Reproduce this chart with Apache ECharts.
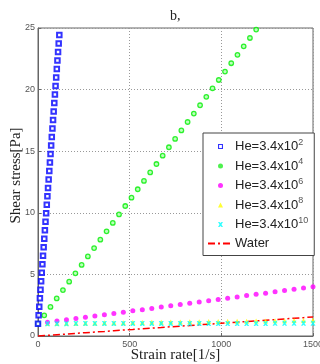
<!DOCTYPE html>
<html>
<head>
<meta charset="utf-8">
<script src="https://cdn.jsdelivr.net/npm/echarts@6/dist/echarts.min.js"></script>
<style>html,body{margin:0;padding:0;background:#fff}#c{width:320px;height:364px}</style>
</head>
<body>
<div id="c"></div>
<script>
// ---- data ----
const titleText = 'b,';
const xName = 'Strain rate[1/s]';
const yName = 'Shear stress[Pa]';
const xTicks = [0, 500, 1000, 1500];
const yTicks = [0, 5, 10, 15, 20, 25];
const seriesNames = ['He=3.4x10^2', 'He=3.4x10^4', 'He=3.4x10^6', 'He=3.4x10^8', 'He=3.4x10^10', 'Water'];

// He=3.4x10^2 (blue squares)
const rateHe2 = [0,3.4,6.8,10.3,13.7,17.1,20.5,23.9,27.4,30.8,34.2,37.6,41.0,44.5,47.9,51.3,54.7,58.1,61.6,65.0,68.4,71.8,75.2,78.7,82.1,85.5,88.9,92.3,95.8,99.2,102.6,106.0,109.4,112.9,116.3];
const stressHe2 = [1.00,1.69,2.38,3.07,3.76,4.45,5.13,5.82,6.51,7.20,7.89,8.58,9.27,9.96,10.65,11.34,12.02,12.71,13.40,14.09,14.78,15.47,16.16,16.85,17.54,18.23,18.91,19.60,20.29,20.98,21.67,22.36,23.05,23.74,24.43];
// He=3.4x10^4 (green circles)
const rateHe4 = [0,34,68,102,136,170,204,238,272,306,340,374,408,442,476,510,544,578,612,646,680,714,748,782,816,850,884,918,952,986,1020,1054,1088,1122,1156,1190];
const stressHe4 = [1.00,1.68,2.36,3.05,3.73,4.41,5.09,5.77,6.46,7.14,7.82,8.50,9.18,9.87,10.55,11.23,11.91,12.59,13.28,13.96,14.64,15.32,16.00,16.69,17.37,18.05,18.73,19.41,20.10,20.78,21.46,22.14,22.82,23.51,24.19,24.87];
// common strain rates for the other series
const rateCommon = [0,51.7,103.4,155.2,206.9,258.6,310.3,362.1,413.8,465.5,517.2,569.0,620.7,672.4,724.1,775.9,827.6,879.3,931.0,982.8,1034.5,1086.2,1137.9,1189.7,1241.4,1293.1,1344.8,1396.6,1448.3,1500];
const stressHe6 = [1.00,1.11,1.21,1.31,1.42,1.52,1.62,1.73,1.83,1.93,2.04,2.14,2.24,2.35,2.45,2.55,2.66,2.76,2.86,2.97,3.07,3.17,3.28,3.38,3.48,3.59,3.69,3.79,3.90,3.99];
const stressHe8 = [1.00,1.01,1.02,1.03,1.04,1.05,1.06,1.07,1.07,1.08,1.09,1.10,1.11,1.12,1.13,1.14,1.15,1.16,1.17,1.18,1.19,1.20,1.20,1.21,1.22,1.23,1.24,1.25,1.26,1.27];
const stressHe10 = [1.00,1.00,1.00,1.00,1.01,1.01,1.01,1.01,1.01,1.01,1.01,1.01,1.01,1.01,1.02,1.02,1.02,1.02,1.02,1.02,1.02,1.02,1.02,1.02,1.02,1.03,1.03,1.03,1.03,1.03];
const stressWater = [0,0.05,0.11,0.16,0.21,0.27,0.32,0.37,0.43,0.48,0.53,0.59,0.64,0.69,0.75,0.80,0.85,0.91,0.96,1.01,1.07,1.12,1.17,1.23,1.28,1.33,1.39,1.44,1.49,1.55];

const pairs = (xs, ys) => xs.map((x, i) => [x, ys[i]]);

const chart = echarts.init(document.getElementById('c'), null, {renderer: 'canvas'});
const serif = '"Liberation Serif", "DejaVu Serif", serif';
const sans = '"Liberation Sans", Arial, sans-serif';

const hollowSquare = 'path://M0,0L10,0L10,10L0,10Z M2.2,2.2L2.2,7.8L7.8,7.8L7.8,2.2Z';
const triPath = 'path://M5,0L10,10L0,10Z';
const crossPath = 'path://M0,0L3,0L5,2L7,0L10,0L7,5L10,10L7,10L5,8L3,10L0,10L3,5Z';

chart.setOption({
  animation: false,
  backgroundColor: '#fff',
  title: {
    text: titleText, left: 165, top: 4,
    textStyle: {fontFamily: serif, fontSize: 14, fontWeight: 'normal', color: '#222'}
  },
  grid: {left: 38, right: 7, top: 28, bottom: 28, containLabel: false, outerBoundsMode: 'none',
         show: true, borderColor: '#666', borderWidth: 1, backgroundColor: 'transparent'},
  legend: {
    orient: 'vertical', left: 203, top: 133,
    backgroundColor: '#fff', borderColor: '#444', borderWidth: 1,
    padding: [5, 6, 4, 4],
    itemWidth: 25, itemHeight: 5, itemGap: 3,
    symbolKeepAspect: true,
    data: [
      {name: seriesNames[0], icon: hollowSquare, itemStyle: {borderWidth: 0, color: '#0000ff'}},
      {name: seriesNames[1], icon: 'circle', itemStyle: {borderWidth: 0, color: '#22ee22'}},
      {name: seriesNames[2], icon: 'circle'},
      {name: seriesNames[3], icon: triPath},
      {name: seriesNames[4], icon: crossPath},
      {name: seriesNames[5], itemStyle: {opacity: 0}}
    ],
    formatter: n => n.replace(/\^(\d+)/, '{sup|$1}'),
    textStyle: {
      fontFamily: sans, fontSize: 13, color: '#222', lineHeight: 16, padding: [0, 0, 0, -3],
      rich: {sup: {fontFamily: sans, fontSize: 9, color: '#555', padding: [0, 0, 8, 0]}}
    }
  },
  xAxis: {
    type: 'value', min: 0, max: 1500, interval: 500,
    name: xName, nameLocation: 'middle', nameGap: 12, nameMoveOverlap: false,
    nameTextStyle: {fontFamily: serif, fontSize: 15, color: '#222'},
    axisLine: {show: true, onZero: false, lineStyle: {color: '#666'}},
    axisTick: {show: true, inside: true, length: 3, lineStyle: {color: '#666'}},
    axisLabel: {fontFamily: sans, fontSize: 9, color: '#555', margin: 4, formatter: v => String(v)},
    splitLine: {show: true, lineStyle: {color: '#999', type: [1, 2]}}
  },
  yAxis: {
    type: 'value', min: 0, max: 25, interval: 5,
    name: yName, nameLocation: 'middle', nameGap: 14, nameRotate: 90, nameMoveOverlap: false,
    nameTextStyle: {fontFamily: serif, fontSize: 15, color: '#222', padding: [0, 0, 0, 13]},
    axisLine: {show: true, onZero: false, lineStyle: {color: '#666'}},
    axisTick: {show: true, inside: true, length: 3, lineStyle: {color: '#666'}},
    axisLabel: {fontFamily: sans, fontSize: 9, color: '#555', margin: 3, formatter: v => String(v)},
    splitLine: {show: true, lineStyle: {color: '#999', type: [1, 2]}}
  },
  series: [
    {name: seriesNames[0], type: 'scatter', data: pairs(rateHe2, stressHe2), symbol: 'emptyRect', symbolSize: 4.5,
     itemStyle: {color: '#0000ff', borderColor: '#1a1aff', borderWidth: 1.2}, z: 6},
    {name: seriesNames[1], type: 'scatter', data: pairs(rateHe4, stressHe4), symbol: 'circle', symbolSize: 4.5,
     itemStyle: {color: '#aaffaa', borderColor: '#00ee00', borderWidth: 1.3}, z: 5},
    {name: seriesNames[2], type: 'scatter', data: pairs(rateCommon, stressHe6), symbol: 'circle', symbolSize: 5,
     itemStyle: {color: '#ff00ff'}, z: 4},
    {name: seriesNames[3], type: 'scatter', data: pairs(rateCommon, stressHe8), symbol: triPath, symbolSize: 5,
     itemStyle: {color: '#ffff00'}, z: 3},
    {name: seriesNames[4], type: 'scatter', data: pairs(rateCommon, stressHe10), symbol: crossPath, symbolSize: 5,
     itemStyle: {color: '#00ffff'}, z: 4},
    {name: seriesNames[5], type: 'line', data: pairs(rateCommon, stressWater), symbol: 'none', showSymbol: false,
     lineStyle: {color: '#ff0000', width: 1.5, type: [7, 3, 2, 3]}, itemStyle: {color: '#ff0000'}, z: 2}
  ]
});
</script>
</body>
</html>
